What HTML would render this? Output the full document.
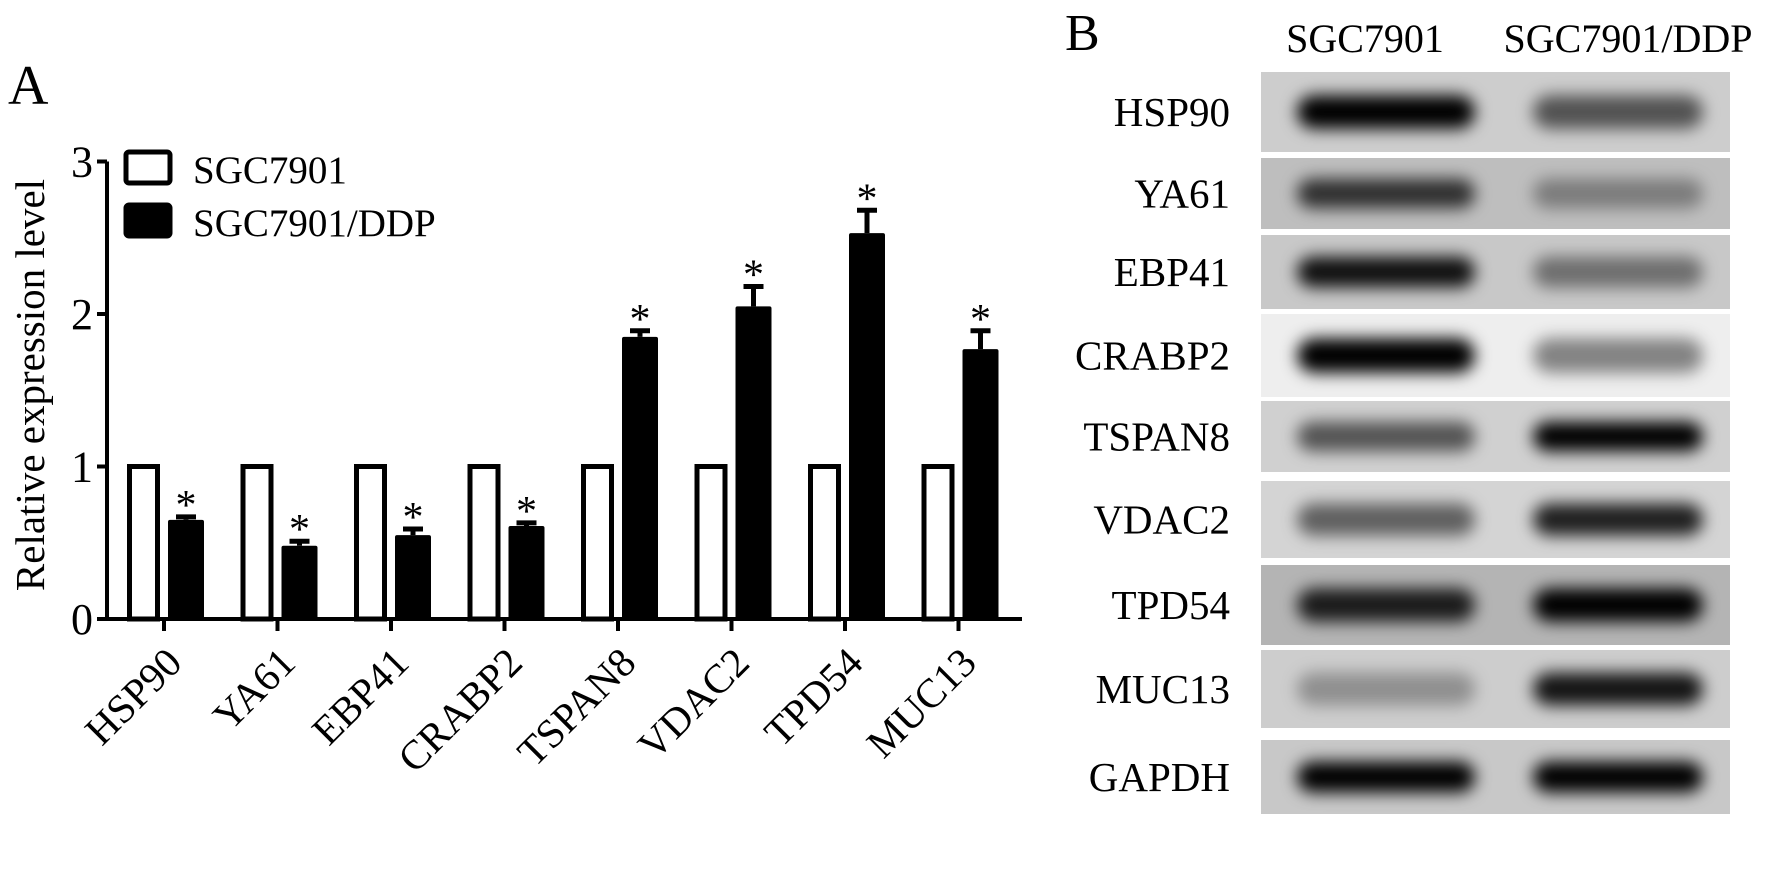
<!DOCTYPE html>
<html><head><meta charset="utf-8">
<style>
html,body{margin:0;padding:0;background:#fff;}
svg{display:block;font-family:"Liberation Serif",serif;}
</style></head>
<body>
<svg id="fig" width="1772" height="880" viewBox="0 0 1772 880">
<defs>
<filter id="blur" x="-20%" y="-80%" width="140%" height="260%"><feGaussianBlur stdDeviation="8"/></filter>
</defs>
<text x="8" y="104" font-size="56">A</text>
<g id="chart"></g>
<text x="1065" y="50" font-size="52">B</text>
<text x="1365" y="52" font-size="40" text-anchor="middle">SGC7901</text>
<text x="1628" y="52" font-size="40" text-anchor="middle">SGC7901/DDP</text>
<g id="blot"></g>
</svg>
<script>
const categories=["HSP90","YA61","EBP41","CRABP2","TSPAN8","VDAC2","TPD54","MUC13"];
const sgcValues=[1,1,1,1,1,1,1,1];
const ddpValues=[0.65,0.48,0.55,0.61,1.85,2.05,2.53,1.77];
const ddpErrors=[0.02,0.03,0.04,0.02,0.04,0.13,0.15,0.12];
const yTicks=[0,1,2,3];
const seriesNames=["SGC7901","SGC7901/DDP"];
const blotRows=["HSP90","YA61","EBP41","CRABP2","TSPAN8","VDAC2","TPD54","MUC13","GAPDH"];
const blotLeft=[1.0,0.75,0.92,1.0,0.6,0.55,0.85,0.3,1.0];
const blotRight=[0.6,0.35,0.45,0.45,1.0,0.85,1.0,0.9,1.0];
const blotBg=[205,190,200,238,208,212,180,205,200];

const NS="http://www.w3.org/2000/svg";
function mk(tag,attrs,parent){const e=document.createElementNS(NS,tag);for(const k in attrs)e.setAttribute(k,attrs[k]);parent.appendChild(e);return e;}
const chart=document.getElementById('chart');
const x0=107,x1=1022,y0=619,unit=152.5,groupW=113.5,firstX=127;
const yS=v=>y0-v*unit;
const gX=i=>firstX+i*groupW;

let ya=mk('line',{x1:x0,y1:yS(3),x2:x0,y2:y0+1,stroke:'#000','stroke-width':4},chart);


let xa=mk('line',{x1:x0-2,y1:y0,x2:x1,y2:y0,stroke:'#000','stroke-width':4},chart);


yTicks.forEach(t=>{
  let tk=mk('line',{x1:x0-10,y1:yS(t),x2:x0,y2:yS(t),stroke:'#000','stroke-width':4},chart);
  
  
  let tl=mk('text',{x:x0-14,y:yS(t)+15,'font-size':44,'text-anchor':'end'},chart);
  tl.textContent=t;
  
  
});
let yt=mk('text',{x:0,y:0,'font-size':41,'text-anchor':'middle',transform:'translate(44,385) rotate(-90)'},chart);
yt.textContent='Relative expression level';



categories.forEach((c,i)=>{
  const gx=gX(i);
  let wb=mk('rect',{x:gx+2.5,y:yS(sgcValues[i]),width:28,height:y0-yS(sgcValues[i]),fill:'#fff',stroke:'#000','stroke-width':5},chart);
  
  
  const bx=gx+41,bw=36;
  let bb=mk('rect',{x:bx,y:yS(ddpValues[i]),width:bw,height:y0-yS(ddpValues[i]),fill:'#000',rx:2},chart);
  
  
  const top=yS(ddpValues[i]+ddpErrors[i]);
  let el=mk('path',{d:`M${bx+bw/2},${yS(ddpValues[i])} V${top} M${bx+bw/2-10},${top} H${bx+bw/2+10}`,stroke:'#000','stroke-width':5,fill:'none'},chart);
  
  
  let st=mk('text',{x:bx+bw/2,y:top+2,'font-size':42,'text-anchor':'middle'},chart);
  st.textContent='*';
  
  
  const cx=gx+37;
  let tk=mk('line',{x1:cx,y1:y0,x2:cx,y2:y0+12,stroke:'#000','stroke-width':4},chart);
  
  
  let lb=mk('text',{x:0,y:0,'font-size':41,'text-anchor':'end',transform:`translate(${cx+20},${y0+46}) rotate(-45)`},chart);
  lb.textContent=c;
  
  
});
seriesNames.forEach((n,i)=>{
  const ly=152+i*53;
  let sw=mk('rect',{x:126,y:ly,width:44,height:31,fill:i?'#000':'#fff',stroke:'#000','stroke-width':5,rx:3},chart);
  
  
  let lt=mk('text',{x:193,y:ly+31,'font-size':39},chart);
  lt.textContent=n;
  
  
});

const blot=document.getElementById('blot');
const rowTop=[72,158,235,314,401,481,565,650,740];
const rowBot=[152,229,309,397,472,558,645,728,814];
blotRows.forEach((r,i)=>{
  const t=rowTop[i],h=rowBot[i]-t,cy=t+h/2,g=blotBg[i];
  let bg=mk('rect',{x:1261,y:t,width:469,height:h,fill:`rgb(${g},${g},${g})`},blot);
  
  
  const bh=h*0.42;
  let b1=mk('rect',{x:1297,y:cy-bh/2,width:178,height:bh,rx:bh/2,fill:'#000','fill-opacity':blotLeft[i],filter:'url(#blur)'},blot);
  
  
  let b2=mk('rect',{x:1533,y:cy-bh/2,width:170,height:bh,rx:bh/2,fill:'#000','fill-opacity':blotRight[i],filter:'url(#blur)'},blot);
  
  
  let lb=mk('text',{x:1230,y:cy+14,'font-size':41,'text-anchor':'end'},blot);
  lb.textContent=r;
  
  
});
</script>
</body></html>
